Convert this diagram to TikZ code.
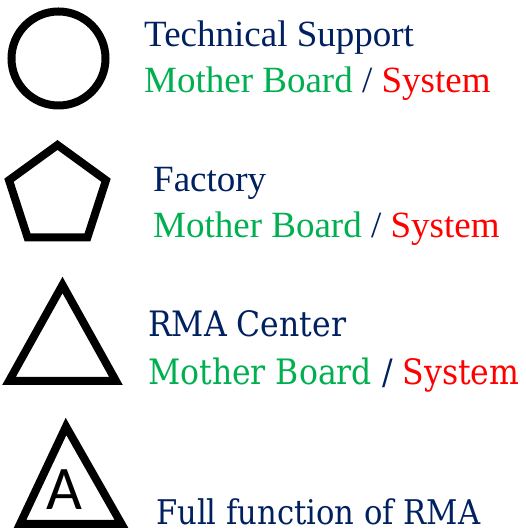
\documentclass[tikz,border=0pt]{standalone}
\usepackage{fontspec}
\setmainfont{Liberation Serif}
\newfontfamily\rmafont{DejaVu Serif Condensed}
\newfontfamily\markfont{Carlito}
\usepackage{xcolor}
\definecolor{colorSite}{HTML}{002060}
\definecolor{colorBoard}{HTML}{00B050}
\definecolor{colorSystem}{HTML}{FF0000}
\usetikzlibrary{shapes.geometric, positioning}
\tikzset{symbol/.style={draw, line width=8pt, inner sep=0pt, line join=miter},
  sitetext/.style={anchor=base west, inner sep=0pt, text=colorSite, font=\fontsize{37}{44}\selectfont},
  rmatext/.style={sitetext, font=\rmafont\fontsize{35}{40}\selectfont}}

\begin{document}
\begin{tikzpicture}[x=1pt, y=1pt]
\useasboundingbox (0,0) rectangle (525,532);
\node[symbol, circle, minimum size=94pt] (support) at (58.5,473.5) {};
\node[symbol, regular polygon, regular polygon sides=5, minimum size=102pt] (factory) at (57.5,336) {};
\draw[symbol] (9,151) coordinate (rmaL) -- (116,151) coordinate (rmaR) -- (62.5,247) coordinate (rmaT) -- cycle;
\draw[symbol] (20,8) coordinate (fullL) -- (121.5,8) coordinate (fullR) -- (66,105.5) coordinate (fullT) -- cycle;
\node[inner sep=0pt, anchor=base, font=\markfont\fontsize{62}{62}\selectfont] (fullmark) at (64.5,22) {A};
\node[sitetext] (supportname) at (144,485) {Technical Support};
\node[sitetext] (supporttype) at (144,439) {\textcolor{colorBoard}{Mother Board} / \textcolor{colorSystem}{System}};
\node[sitetext] (factoryname) at (153,340) {Factory};
\node[sitetext] (factorytype) at (153,294) {\textcolor{colorBoard}{Mother Board} / \textcolor{colorSystem}{System}};
\node[rmatext] (rmaname) at (148,195) {RMA Center};
\node[rmatext] (rmatype) at (148,147) {\textcolor{colorBoard}{Mother Board} / \textcolor{colorSystem}{System}};
\node[rmatext, font=\rmafont\fontsize{34}{40}\selectfont] (fullname) at (156,7) {Full function of RMA};
\end{tikzpicture}
\end{document}
